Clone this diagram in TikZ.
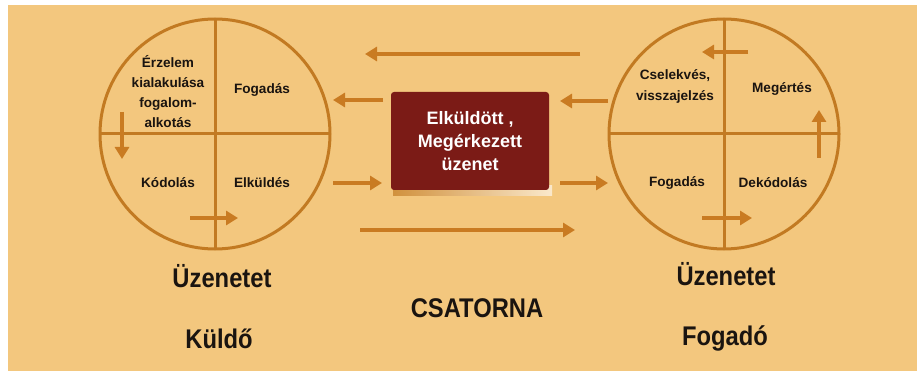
\documentclass[tikz,border=0pt]{standalone}
\usepackage{fontspec}
\setmainfont{Liberation Sans}
\newfontfamily\narrowfont[FakeStretch=0.88]{Liberation Sans}
\usetikzlibrary{arrows.meta}
\definecolor{bg}{HTML}{F3C77E}
\definecolor{ring}{HTML}{C27A22}
\definecolor{arr}{HTML}{C97B22}
\definecolor{boxred}{HTML}{7B1B16}
\definecolor{ink}{HTML}{1A1410}
\begin{document}
\begin{tikzpicture}[x=1pt,y=-1pt,
  ringc/.style={circle,draw=ring,line width=3pt,minimum size=230pt,inner sep=0pt,outer sep=0pt},
  cross/.style={draw=ring,line width=3pt},
  flow/.style={draw=arr,line width=4pt,-{Triangle[length=12pt,width=14pt]}},
  intext/.style={font=\bfseries\fontsize{13.6}{20}\selectfont,align=center,text=ink,inner sep=0pt},
  boxtext/.style={font=\bfseries\fontsize{18}{23}\selectfont,align=center,text=white},
  biglabel/.style={font=\narrowfont\bfseries\fontsize{27}{30}\selectfont,text=ink,anchor=base,inner sep=0pt}]
\fill[white] (0,0) rectangle (917,371);
\fill[bg] (8,5) rectangle (917,371);
\useasboundingbox (0,0) rectangle (917,371);

% circles
\node[ringc] (L) at (215,134) {};
\node[ringc] (R) at (724,134) {};
\draw[cross] (L.north) -- (L.south);
\draw[cross] (L.west) -- (L.east);
\draw[cross] (R.north) -- (R.south);
\draw[cross] (R.west) -- (R.east);

% left texts
\node[intext] (l1) at (168,92) {Érzelem\\kialakulása\\fogalom-\\alkotás};
\node[intext] (l2) at (262,90) {Fogadás};
\node[intext] (l3) at (168,183) {Kódolás};
\node[intext] (l4) at (262,183) {Elküldés};

% right texts
\node[intext,font=\bfseries\fontsize{13.6}{21}\selectfont] (r1) at (675,86) {Cselekvés,\\visszajelzés};
\node[intext] (r2) at (782,89) {Megértés};
\node[intext] (r3) at (677,183) {Fogadás};
\node[intext] (r4) at (773,183) {Dekódolás};

% box with shadow
\shade[left color=ring!70!bg, right color=white!60!bg] (393,186) rectangle (552,196);
\node[boxtext,fill=boxred,rounded corners=3pt,minimum width=158pt,minimum height=98pt] (M) at (470,141) {Elküldött ,\\Megérkezett\\üzenet};

% arrows
\coordinate (a1s) at (580,54);  \coordinate (a1e) at (365,54);
\coordinate (a2s) at (383,100); \coordinate (a2e) at (333,100);
\coordinate (a3s) at (608,101); \coordinate (a3e) at (560,101);
\coordinate (a4s) at (333,183); \coordinate (a4e) at (382,183);
\coordinate (a5s) at (560,183); \coordinate (a5e) at (608,183);
\coordinate (a6s) at (360,230); \coordinate (a6e) at (575,230);
\draw[flow] (a1s) -- (a1e);
\draw[flow] (a2s) -- (a2e);
\draw[flow] (a3s) -- (a3e);
\draw[flow] (a4s) -- (a4e);
\draw[flow] (a5s) -- (a5e);
\draw[flow] (a6s) -- (a6e);

\coordinate (b1s) at (122,112); \coordinate (b1e) at (122,159);
\coordinate (b2s) at (190,218); \coordinate (b2e) at (238,218);
\draw[flow] (b1s) -- (b1e);
\draw[flow] (b2s) -- (b2e);

\coordinate (c1s) at (748,52);  \coordinate (c1e) at (702,52);
\coordinate (c2s) at (819,158); \coordinate (c2e) at (819,110);
\coordinate (c3s) at (702,218); \coordinate (c3e) at (752,218);
\draw[flow] (c1s) -- (c1e);
\draw[flow] (c2s) -- (c2e);
\draw[flow] (c3s) -- (c3e);

% bottom labels
\node[biglabel] (s1) at (222,287) {Üzenetet};
\node[biglabel] (s2) at (219,348) {Küldő};
\node[biglabel] (ch) at (477,317) {CSATORNA};
\node[biglabel] (f1) at (726,285) {Üzenetet};
\node[biglabel] (f2) at (725,345) {Fogadó};
\end{tikzpicture}
\end{document}
